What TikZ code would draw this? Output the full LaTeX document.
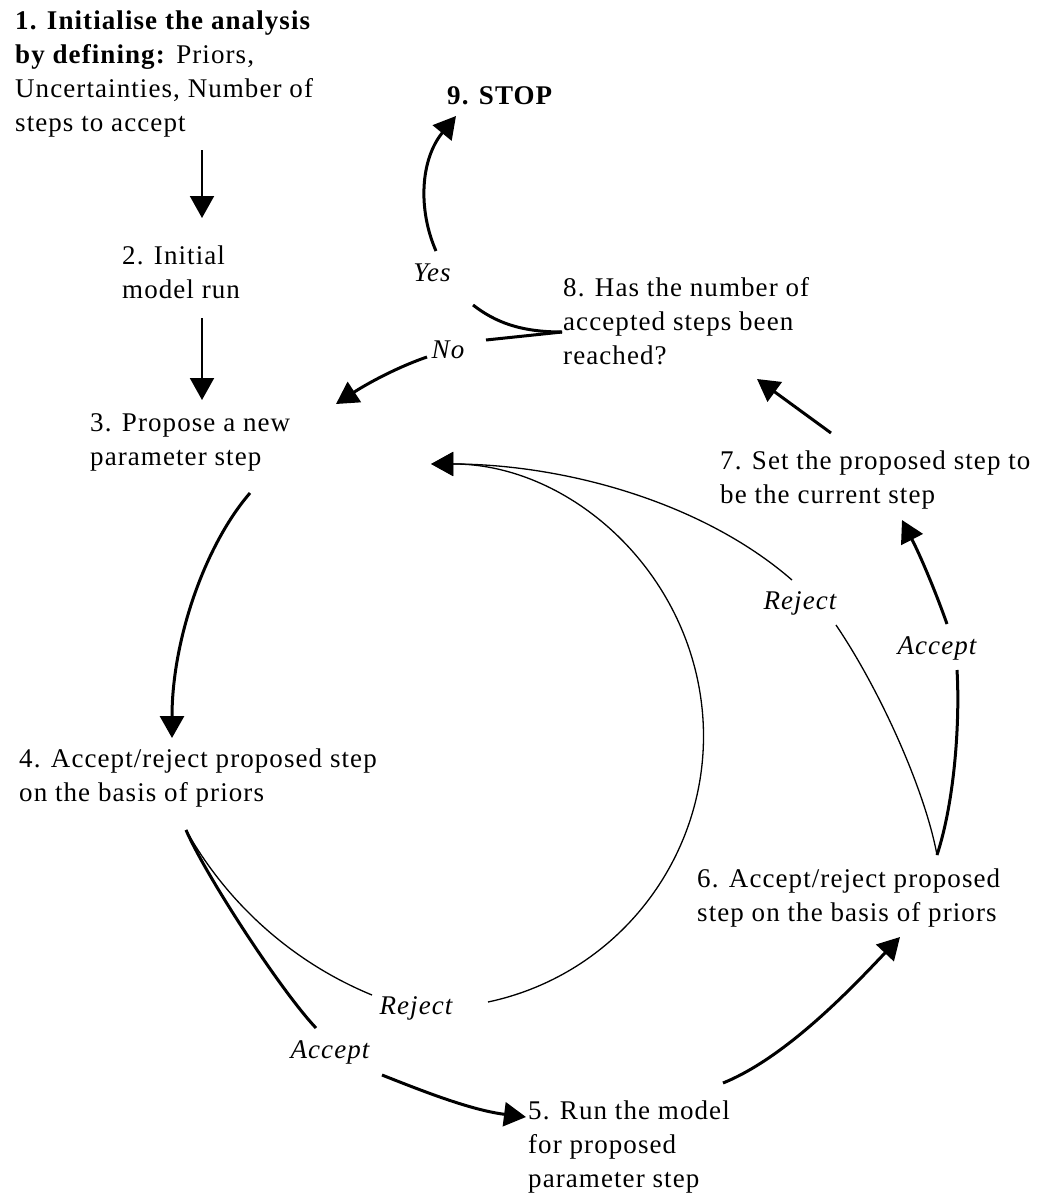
\documentclass[tikz,border=0pt]{standalone}
\usepackage{fontspec}
\setmainfont{Liberation Serif}[LetterSpace=4]
\usetikzlibrary{arrows.meta}
\begin{document}
\begin{tikzpicture}[x=1pt,y=-1pt,
  txt/.style={anchor=north west, inner sep=0pt, align=left, font=\fontsize{27}{34}\selectfont},
  lbl/.style={inner sep=0pt, font=\fontsize{27}{34}\selectfont\itshape},
  headtip/.style={-{Triangle[length=22pt,width=24pt]}},
  vertarrow/.style={line width=2pt, headtip},
  boldarrow/.style={line width=3pt, headtip},
  boldseg/.style={line width=3pt},
  thinseg/.style={line width=1.3pt},
  thinarrow/.style={line width=1.3pt, headtip}]
\useasboundingbox (0,0) rectangle (1038,1197);

% nodes
\node[txt] (n1) at (15,11) {\textbf{1. Initialise the analysis}\\\textbf{by defining:} Priors,\\Uncertainties, Number of\\steps to accept};
\node[txt] (n2) at (122,246) {2. Initial\\model run};
\node[txt] (n3) at (90,413) {3. Propose a new\\parameter step};
\node[txt] (n4) at (19,749) {4. Accept/reject proposed step\\on the basis of priors};
\node[txt] (n5) at (528,1101) {5. Run the model\\for proposed\\parameter step};
\node[txt] (n6) at (697,869) {6. Accept/reject proposed\\step on the basis of priors};
\node[txt] (n7) at (720,451) {7. Set the proposed step to\\be the current step};
\node[txt] (n8) at (563,277) {8. Has the number of\\accepted steps been\\reached?};
\node[txt] (n9) at (447,86) {\textbf{9. STOP}};

% labels
\node[lbl] (yes) at (432,273) {Yes};
\node[lbl] (no) at (448,350) {No};
\node[lbl] (rej4) at (416,1008) {Reject};
\node[lbl] (acc4) at (330,1052) {Accept};
\node[lbl] (rej6) at (800,603) {Reject};
\node[lbl] (acc6) at (937,648) {Accept};

% connection points
\coordinate (p12a) at (202,150); \coordinate (p12b) at (202,218);
\coordinate (p23a) at (202,318); \coordinate (p23b) at (202,400);
\coordinate (p34a) at (250,493); \coordinate (p34b) at (172,738);
\coordinate (p4o) at (186,830);
\coordinate (p4acc) at (316,1028);
\coordinate (p45a) at (382,1075); \coordinate (p45b) at (526,1117);
\coordinate (p4rej) at (372,995);
\coordinate (p4rej2) at (488,1002);
\coordinate (p3in) at (431,464);
\coordinate (p56a) at (723,1083); \coordinate (p56b) at (900,937);
\coordinate (p6o) at (937,855);
\coordinate (p6acc) at (957,670);
\coordinate (p67a) at (947,624); \coordinate (p67b) at (902,520);
\coordinate (p6rej) at (836,625);
\coordinate (p6rej2) at (792,580);
\coordinate (p78a) at (831,433); \coordinate (p78b) at (757,379);
\coordinate (p8o) at (562,332);
\coordinate (p8yes) at (473,305);
\coordinate (p89a) at (436,251); \coordinate (p89b) at (456,116);
\coordinate (p8no) at (486,340);
\coordinate (p83a) at (427,357); \coordinate (p83b) at (336,404);

% connectors
\draw[vertarrow] (p12a) -- (p12b);
\draw[vertarrow] (p23a) -- (p23b);
\draw[boldarrow] (p34a) .. controls (205,545) and (172,640) .. (p34b);

% step 4 accept
\draw[boldseg] (p4o) .. controls (206,876) and (281,991) .. (p4acc);
\draw[boldarrow] (p45a) .. controls (420,1090) and (470,1110) .. (p45b);
% step 4 reject
\draw[thinseg] (p4o) .. controls (224,898) and (287,960) .. (p4rej);
\draw[thinarrow] (p4rej2) arc[start angle=78, end angle=-90, radius=272];

% step 5 -> 6
\draw[boldarrow] (p56a) .. controls (785,1058) and (850,990) .. (p56b);

% step 6 accept
\draw[boldseg] (p6o) .. controls (955,800) and (960,720) .. (p6acc);
\draw[boldarrow] (p67a) .. controls (935,590) and (920,555) .. (p67b);
% step 6 reject
\draw[thinseg] (p6o) .. controls (925,790) and (880,690) .. (p6rej);
\draw[thinarrow] (p6rej2) .. controls (700,500) and (560,464) .. (p3in);

% 7 -> 8
\draw[boldarrow] (p78a) -- (p78b);

% 8 yes / no
\draw[boldseg] (p8o) .. controls (520,332) and (495,322) .. (p8yes);
\draw[boldarrow] (p89a) .. controls (418,210) and (420,160) .. (p89b);
\draw[boldseg] (p8o) -- (p8no);
\draw[boldarrow] (p83a) .. controls (395,368) and (365,385) .. (p83b);
\end{tikzpicture}
\end{document}
